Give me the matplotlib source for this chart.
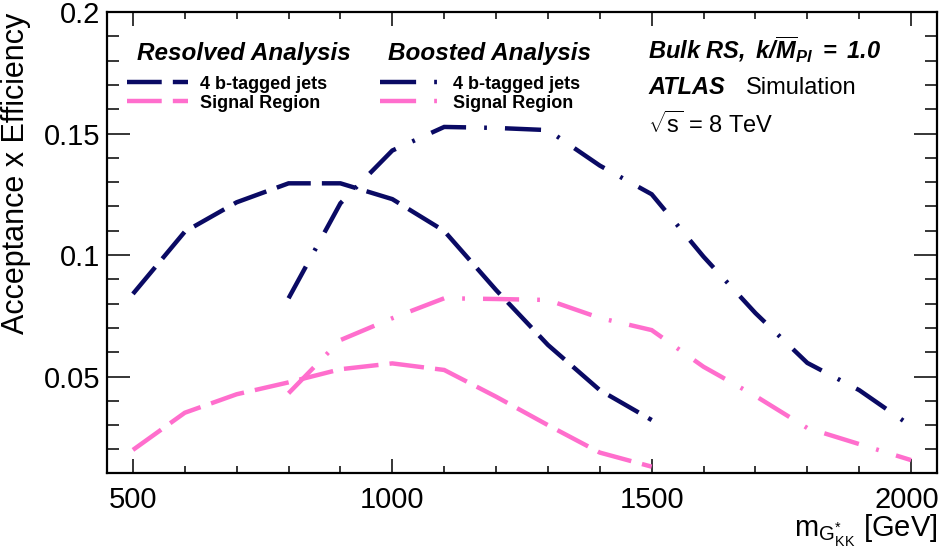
import matplotlib
matplotlib.use('Agg')
import matplotlib.pyplot as plt
import matplotlib.transforms as mtransforms
from matplotlib.ticker import MultipleLocator

plt.rcParams['font.family'] = ['Liberation Sans', 'DejaVu Sans']
plt.rcParams['mathtext.fontset'] = 'custom'
plt.rcParams['mathtext.rm'] = 'Liberation Sans'
plt.rcParams['mathtext.it'] = 'Liberation Sans:italic'
plt.rcParams['mathtext.bf'] = 'Liberation Sans:italic:bold'
plt.rcParams['lines.scale_dashes'] = False

# resolved analysis, 500-1500 GeV
mass_res = [500, 600, 700, 800, 900, 1000, 1100, 1200, 1300, 1400, 1500]
res_4b = [0.084, 0.1096, 0.1217, 0.1295, 0.1295, 0.123, 0.1099, 0.0856, 0.063, 0.0444, 0.0321]
res_sr = [0.0198, 0.0351, 0.0427, 0.0476, 0.053, 0.0554, 0.0527, 0.0417, 0.030, 0.0187, 0.0129]

# boosted analysis, 800-2000 GeV
mass_boo = [800, 900, 1000, 1100, 1200, 1300, 1400, 1500, 1600, 1700, 1800, 1900, 2000]
boo_4b = [0.0822, 0.1213, 0.143, 0.1527, 0.1523, 0.1514, 0.1368, 0.125, 0.0993, 0.0761, 0.0556, 0.0444, 0.0296]
boo_sr = [0.0431, 0.065, 0.074, 0.0822, 0.0819, 0.0815, 0.0741, 0.0691, 0.054, 0.042, 0.0288, 0.0222, 0.0156]

navy = '#0a0a64'
pink = '#ff6ecd'
dashed = (0, (25, 8))
dashdot = (0, (26, 13, 2, 13))

fig = plt.figure(figsize=(9.41, 5.53), dpi=100)
ax = fig.add_axes([107/941, 1-473/553, 830/941, 461/553])

kw = dict(lw=3.2, dash_capstyle='butt', dash_joinstyle='miter')
l1, = ax.plot(mass_res, res_4b, color=navy, ls=dashed, **kw)
l2, = ax.plot(mass_res, res_sr, color=pink, ls=dashed, **kw)
l3, = ax.plot(mass_boo, boo_4b, color=navy, ls=dashdot, **kw)
l4, = ax.plot(mass_boo, boo_sr, color=pink, ls=dashdot, **kw)

ax.set_xlim(450, 2050)
ax.set_ylim(0.0103, 0.2)
ax.set_xticks([500, 1000, 1500, 2000])
ax.xaxis.set_minor_locator(MultipleLocator(100))
ax.yaxis.set_major_locator(MultipleLocator(0.05))
ax.yaxis.set_minor_locator(MultipleLocator(0.01))
ax.yaxis.set_major_formatter(matplotlib.ticker.FuncFormatter(lambda v, p: ('%g' % round(v, 3))))

for s in ax.spines.values():
    s.set_linewidth(1.6)
ax.tick_params(axis='both', which='both', direction='in', top=True, right=True, width=1.1)
ax.tick_params(axis='x', which='major', length=10, labelsize=21, pad=9)
ax.tick_params(axis='x', which='minor', length=5)
ax.tick_params(axis='y', which='major', length=16.5, labelsize=21, pad=5)
ax.tick_params(axis='y', which='minor', length=8.5)

# keep the 2000 label inside the canvas
fig.canvas.draw()
for tick in ax.xaxis.get_major_ticks():
    if tick.get_loc() == 2000:
        shift = mtransforms.ScaledTranslation(-4/100, 0, fig.dpi_scale_trans)
        tick.label1.set_transform(tick.label1.get_transform() + shift)

# axis titles, ROOT style: flush with the top / right end of the axes
fig.text(16/941, 1-13/553, 'Acceptance x Efficiency', fontsize=22, rotation=90,
         ha='center', va='top')
fig.text(937/941, 16/553, r'$\mathrm{m_{G^{*}_{KK}}}$ [GeV]', fontsize=21,
         ha='right', va='baseline')

legkw = dict(loc='upper left', frameon=False, borderpad=0, borderaxespad=0,
             handlelength=3.4, handletextpad=0.66, labelspacing=0.12,
             prop={'weight': 'bold', 'size': 13})
leg1 = ax.legend([l1, l2], ['4 b-tagged jets', 'Signal Region'],
                 bbox_to_anchor=(0.024, 0.862), **legkw)
ax.add_artist(leg1)
ax.legend([l3, l4], ['4 b-tagged jets', 'Signal Region'],
          bbox_to_anchor=(0.329, 0.862), **legkw)

ax.text(0.0361, 0.896, 'Resolved Analysis', transform=ax.transAxes, fontsize=17.5,
        fontweight='bold', fontstyle='italic', va='baseline')
ax.text(0.3386, 0.896, 'Boosted Analysis', transform=ax.transAxes, fontsize=17.5,
        fontweight='bold', fontstyle='italic', va='baseline')

ax.text(0.652, 0.898, r'$\mathbf{Bulk\ RS,\ k/\overline{M}_{Pl}\ =\ 1.0}$', transform=ax.transAxes,
        fontsize=17, va='baseline')
ax.text(0.652, 0.822, 'ATLAS', transform=ax.transAxes, fontsize=17,
        fontweight='bold', fontstyle='italic', va='baseline')
ax.text(0.77, 0.822, 'Simulation', transform=ax.transAxes, fontsize=17, va='baseline')
ax.text(0.652, 0.7375, r'$\sqrt{\mathrm{s}}$ = 8 TeV', transform=ax.transAxes,
        fontsize=17, va='baseline')

fig.savefig('out.png', dpi=100)
